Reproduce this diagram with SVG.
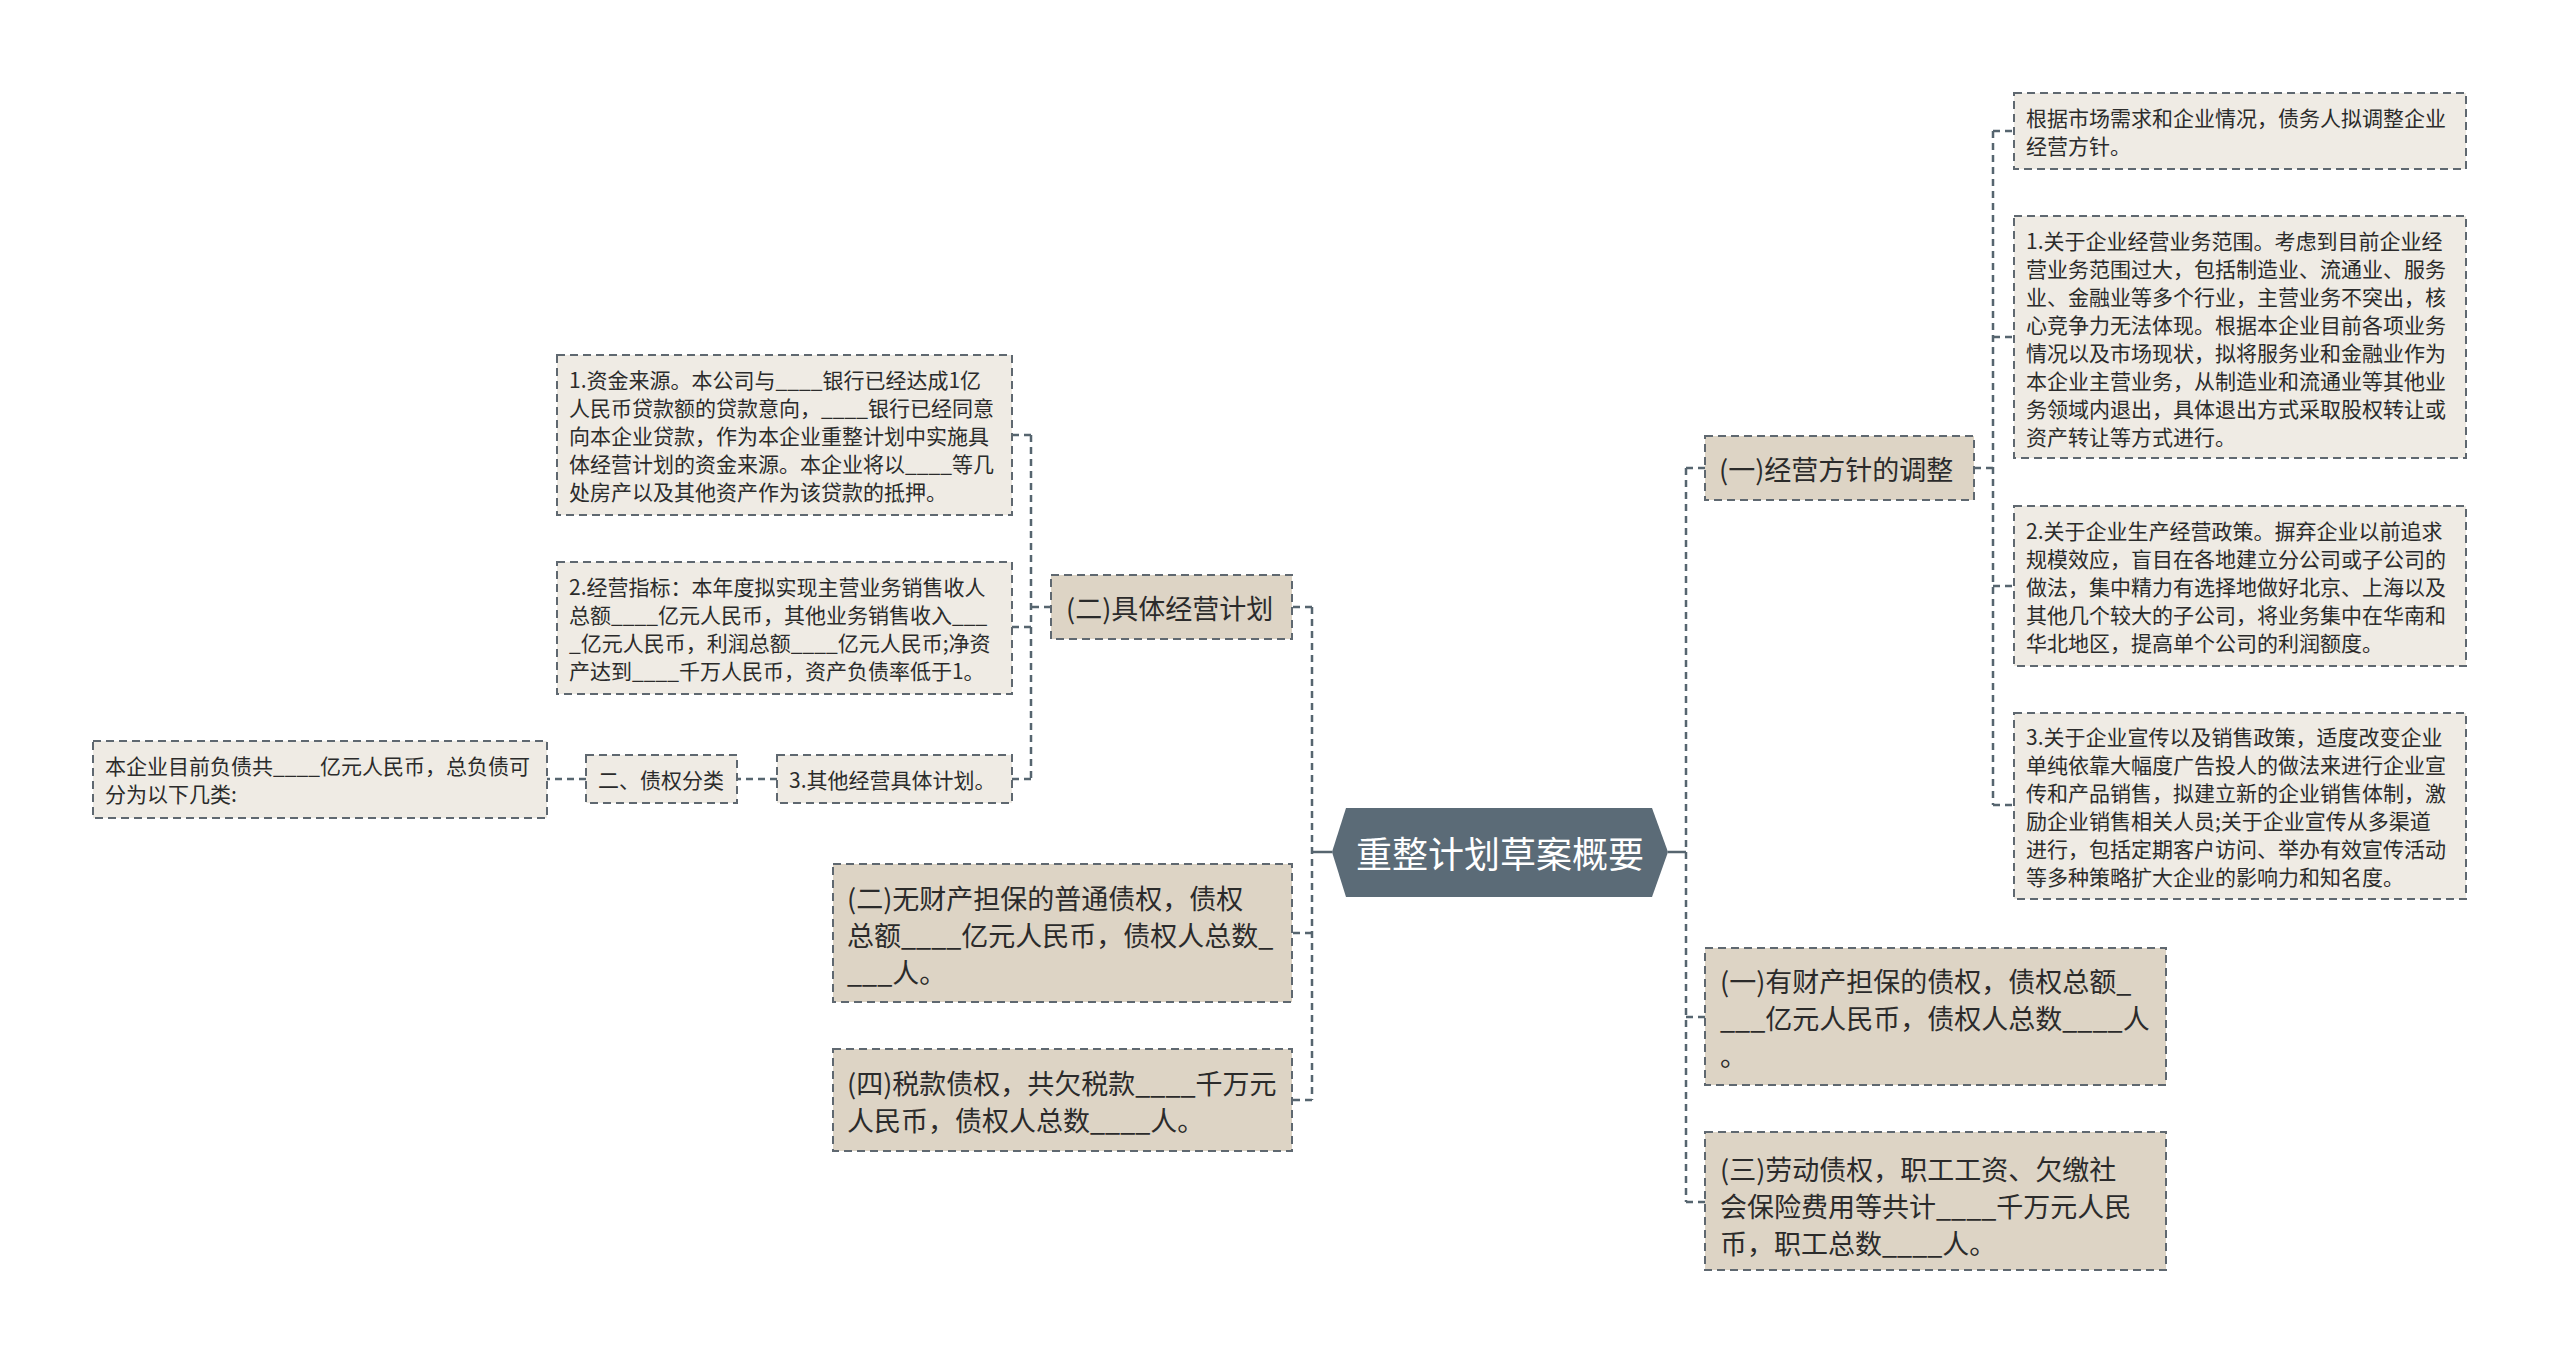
<svg xmlns="http://www.w3.org/2000/svg" width="2560" height="1363" viewBox="0 0 2560 1363">
<defs>
<style>
text{font-family:"Noto Sans CJK SC","Microsoft YaHei",sans-serif;fill:#2b2b2b;dominant-baseline:central}
.l1{fill:#ddd4c5;stroke:#5f6870;stroke-width:2;stroke-dasharray:8 5}
.l2{fill:#efebe4;stroke:#5f6870;stroke-width:2;stroke-dasharray:8 5}
.t1{font-size:27px}
.t2{font-size:21px}
.rt{font-size:36px;fill:#ffffff}
.cn{fill:none;stroke:#56656f;stroke-width:2.5;stroke-dasharray:7 5}
.cs{fill:none;stroke:#56656f;stroke-width:2.5}
</style>
</defs>
<rect width="2560" height="1363" fill="#ffffff"/>
<g id="connectors">
<path class="cs" d="M1332,852 H1312"/>
<path class="cs" d="M1668,852 H1686"/>
<path class="cn" d="M1312,607 V1100"/>
<path class="cn" d="M1312,607 H1292 M1312,933 H1292 M1312,1100 H1292"/>
<path class="cn" d="M1686,468 V1202"/>
<path class="cn" d="M1686,468 H1705 M1686,1017 H1705 M1686,1202 H1705"/>
<path class="cn" d="M1974,468 H1993 M1993,131 V805"/>
<path class="cn" d="M1993,131 H2014 M1993,337 H2014 M1993,586 H2014 M1993,805 H2014"/>
<path class="cn" d="M1051,607 H1031 M1031,435 V779"/>
<path class="cn" d="M1031,435 H1012 M1031,627 H1012 M1031,779 H1012"/>
<path class="cn" d="M777,779 H737 M586,779 H547"/>
</g>
<g id="root">
<polygon points="1332,852 1346,808 1652,808 1668,852 1652,897 1346,897" fill="#5b6b77"/>
<text class="rt" x="1500" y="852" text-anchor="middle">重整计划草案概要</text>
</g>
<g id="n-jyfz">
<rect class="l1" x="1705" y="436" width="269" height="64"/>
<text class="t1" x="1719" y="468">(一)经营方针的调整</text>
</g>
<g id="n-a">
<rect class="l2" x="2014" y="93" width="452" height="76"/>
<text class="t2" x="2026"><tspan x="2026" y="117">根据市场需求和企业情况，债务人拟调整企业</tspan><tspan x="2026" y="145">经营方针。</tspan></text>
</g>
<g id="n-b">
<rect class="l2" x="2014" y="216" width="452" height="242"/>
<text class="t2"><tspan x="2026" y="240">1.关于企业经营业务范围。考虑到目前企业经</tspan><tspan x="2026" y="268">营业务范围过大，包括制造业、流通业、服务</tspan><tspan x="2026" y="296">业、金融业等多个行业，主营业务不突出，核</tspan><tspan x="2026" y="324">心竞争力无法体现。根据本企业目前各项业务</tspan><tspan x="2026" y="352">情况以及市场现状，拟将服务业和金融业作为</tspan><tspan x="2026" y="380">本企业主营业务，从制造业和流通业等其他业</tspan><tspan x="2026" y="408">务领域内退出，具体退出方式采取股权转让或</tspan><tspan x="2026" y="436">资产转让等方式进行。</tspan></text>
</g>
<g id="n-c">
<rect class="l2" x="2014" y="506" width="452" height="160"/>
<text class="t2"><tspan x="2026" y="530">2.关于企业生产经营政策。摒弃企业以前追求</tspan><tspan x="2026" y="558">规模效应，盲目在各地建立分公司或子公司的</tspan><tspan x="2026" y="586">做法，集中精力有选择地做好北京、上海以及</tspan><tspan x="2026" y="614">其他几个较大的子公司，将业务集中在华南和</tspan><tspan x="2026" y="642">华北地区，提高单个公司的利润额度。</tspan></text>
</g>
<g id="n-d">
<rect class="l2" x="2014" y="713" width="452" height="186"/>
<text class="t2"><tspan x="2026" y="736">3.关于企业宣传以及销售政策，适度改变企业</tspan><tspan x="2026" y="764">单纯依靠大幅度广告投人的做法来进行企业宣</tspan><tspan x="2026" y="792">传和产品销售，拟建立新的企业销售体制，激</tspan><tspan x="2026" y="820">励企业销售相关人员;关于企业宣传从多渠道</tspan><tspan x="2026" y="848">进行，包括定期客户访问、举办有效宣传活动</tspan><tspan x="2026" y="876">等多种策略扩大企业的影响力和知名度。</tspan></text>
</g>
<g id="n-ycc">
<rect class="l1" x="1705" y="948" width="461" height="137"/>
<text class="t1"><tspan x="1720" y="980">(一)有财产担保的债权，债权总额_</tspan><tspan x="1720" y="1017">___亿元人民币，债权人总数____人</tspan><tspan x="1720" y="1054">。</tspan></text>
</g>
<g id="n-ld">
<rect class="l1" x="1705" y="1132" width="461" height="138"/>
<text class="t1"><tspan x="1720" y="1168">(三)劳动债权，职工工资、欠缴社</tspan><tspan x="1720" y="1205">会保险费用等共计____千万元人民</tspan><tspan x="1720" y="1242">币，职工总数____人。</tspan></text>
</g>
<g id="n-jtjy">
<rect class="l1" x="1051" y="575" width="241" height="64"/>
<text class="t1" x="1066" y="607">(二)具体经营计划</text>
</g>
<g id="n-wcc">
<rect class="l1" x="833" y="864" width="459" height="138"/>
<text class="t1"><tspan x="847" y="897">(二)无财产担保的普通债权，债权</tspan><tspan x="847" y="934">总额____亿元人民币，债权人总数_</tspan><tspan x="847" y="971">___人。</tspan></text>
</g>
<g id="n-sk">
<rect class="l1" x="833" y="1049" width="459" height="102"/>
<text class="t1"><tspan x="847" y="1082">(四)税款债权，共欠税款____千万元</tspan><tspan x="847" y="1119">人民币，债权人总数____人。</tspan></text>
</g>
<g id="n-zj">
<rect class="l2" x="557" y="355" width="455" height="160"/>
<text class="t2"><tspan x="569" y="379">1.资金来源。本公司与____银行已经达成1亿</tspan><tspan x="569" y="407">人民币贷款额的贷款意向，____银行已经同意</tspan><tspan x="569" y="435">向本企业贷款，作为本企业重整计划中实施具</tspan><tspan x="569" y="463">体经营计划的资金来源。本企业将以____等几</tspan><tspan x="569" y="491">处房产以及其他资产作为该贷款的抵押。</tspan></text>
</g>
<g id="n-zb">
<rect class="l2" x="557" y="562" width="455" height="132"/>
<text class="t2"><tspan x="569" y="586">2.经营指标：本年度拟实现主营业务销售收人</tspan><tspan x="569" y="614">总额____亿元人民币，其他业务销售收入___</tspan><tspan x="569" y="642">_亿元人民币，利润总额____亿元人民币;净资</tspan><tspan x="569" y="670">产达到____千万人民币，资产负债率低于1。</tspan></text>
</g>
<g id="n-qt">
<rect class="l2" x="777" y="755" width="235" height="48"/>
<text class="t2" x="789" y="779">3.其他经营具体计划。</text>
</g>
<g id="n-zqfl">
<rect class="l2" x="586" y="755" width="151" height="48"/>
<text class="t2" x="598" y="779">二、债权分类</text>
</g>
<g id="n-fz">
<rect class="l2" x="93" y="741" width="454" height="77"/>
<text class="t2"><tspan x="105" y="765">本企业目前负债共____亿元人民币，总负债可</tspan><tspan x="105" y="793">分为以下几类:</tspan></text>
</g>
</svg>
